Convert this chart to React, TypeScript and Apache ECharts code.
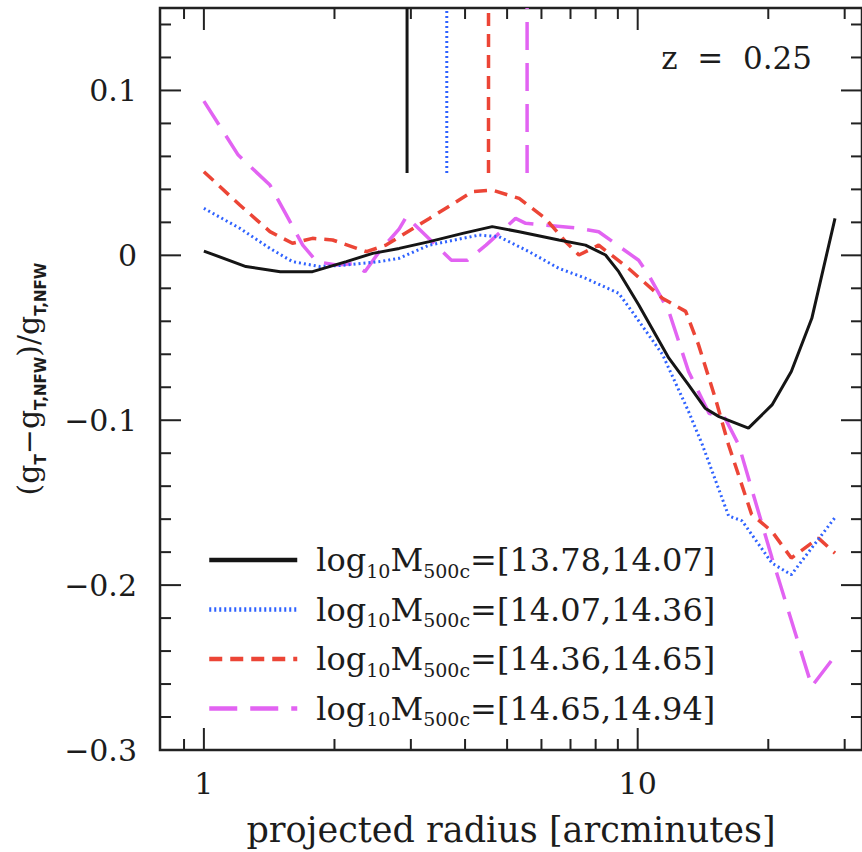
import { useEffect, useRef } from "react";
import * as echarts from "echarts";

// ---- data ----
const massRanges = ["13.78,14.07", "14.07,14.36", "14.36,14.65", "14.65,14.94"];

const bin1: [number, number][] = [
  [1.0, 0.0026], [1.25, -0.0068], [1.5, -0.0099], [1.78, -0.0099], [2.13, -0.0038],
  [2.45, 0.0012], [2.82, 0.0042], [3.31, 0.0083], [3.95, 0.0133], [4.62, 0.0174],
  [5.33, 0.0143], [6.58, 0.0093], [7.58, 0.0062], [8.43, 0.0002], [9.04, -0.0099],
  [10.05, -0.03], [11.8, -0.0624], [13.1, -0.0786], [14.3, -0.0927], [15.4, -0.0978],
  [18.0, -0.1048], [20.4, -0.0907], [22.6, -0.0705], [25.2, -0.0382], [28.5, 0.0224],
];
const bin2: [number, number][] = [
  [1.0, 0.0285], [1.21, 0.0164], [1.42, 0.0042], [1.6, -0.0038], [1.85, -0.0068],
  [2.13, -0.0059], [2.54, -0.0038], [2.82, -0.0018], [3.31, 0.0062], [4.31, 0.0123],
  [4.79, 0.0113], [5.62, 0.0022], [6.58, -0.0079], [7.58, -0.0139], [9.04, -0.023],
  [9.7, -0.034], [11.4, -0.06], [13.1, -0.0947], [14.1, -0.115], [16.2, -0.158],
  [17.4, -0.161], [20.4, -0.1867], [22.6, -0.1937], [28.5, -0.159],
];
const bin3: [number, number][] = [
  [1.0, 0.0507], [1.21, 0.0305], [1.42, 0.0144], [1.6, 0.0073], [1.78, 0.0103],
  [1.98, 0.0093], [2.37, 0.0022], [2.63, 0.0062], [3.31, 0.0224], [4.16, 0.0386],
  [4.62, 0.0396], [5.33, 0.0345], [6.13, 0.0224], [6.82, 0.0083], [7.32, 0.0002],
  [8.13, 0.0062], [9.53, -0.008], [11.4, -0.026], [12.9, -0.034], [13.8, -0.054],
  [15.1, -0.0867], [16.2, -0.115], [18.3, -0.157], [20.4, -0.1675], [22.6, -0.1836],
  [26.1, -0.1715], [28.5, -0.1806],
];
const bin4: [number, number][] = [
  [1.0, 0.0935], [1.2, 0.0608], [1.42, 0.0426], [1.55, 0.0244], [1.69, 0.0062],
  [1.82, -0.0038], [2.02, -0.0059], [2.2, -0.005], [2.35, -0.0099], [2.54, 0.0024],
  [2.82, 0.016], [2.93, 0.0234], [3.72, -0.003], [4.05, -0.003], [4.47, 0.0062],
  [5.23, 0.0224], [5.52, 0.0194], [7.32, 0.0164], [8.13, 0.0143], [10.05, -0.003],
  [10.6, -0.012], [11.8, -0.034], [13.1, -0.0705], [14.6, -0.0958], [15.9, -0.0988],
  [17.1, -0.115], [20.4, -0.1836], [25.2, -0.2614], [28.5, -0.243],
];
const binData = [bin1, bin2, bin3, bin4];

// vertical markers at the top (one per mass bin)
const markerRadii = [2.94, 3.63, 4.53, 5.56];
const markerSpan = [0.05, 0.15];

// axes
const X_MIN = 0.7922;
const X_MAX = 32.89;
const Y_MIN = -0.3;
const Y_MAX = 0.15;
const xTicks = [0.9, 1, 2, 3, 4, 5, 6, 7, 8, 9, 10, 20, 30];
const xMajorTicks = [1, 10];
const yTicks = [
  -0.28, -0.26, -0.24, -0.22, -0.2, -0.18, -0.16, -0.14, -0.12, -0.1, -0.08, -0.06,
  -0.04, -0.02, 0, 0.02, 0.04, 0.06, 0.08, 0.1, 0.12, 0.14,
];
const yMajorTicks = [-0.2, -0.1, 0, 0.1];
const redshiftLabel = "z  =  0.25";

// ---- styles ----
const colors = ["#151515", "#2f62ff", "#ec4536", "#e263f2"];
const widths = [3, 3, 3.5, 3.5];
const dashes: any[] = ["solid", [2, 3], [13, 8], [28, 13]];
const SERIF = "DejaVu Serif";
const TEXT = "#1c1c1c";

function seriesName(i: number) {
  return "log10M500c=[" + massRanges[i] + "]";
}

export default function App() {
  const ref = useRef<HTMLDivElement>(null);
  useEffect(() => {
    if (!ref.current) return;
    const chart = echarts.init(ref.current, null, { renderer: "svg" });

    const lineSeries = binData.map((d, i) => ({
      name: seriesName(i),
      type: "line",
      data: d,
      symbol: "none",
      showSymbol: false,
      lineStyle: { color: colors[i], width: widths[i], type: dashes[i] },
      itemStyle: { color: colors[i] },
      z: 5 - i,
    }));

    const markerSeries = markerRadii.map((r, i) => ({
      name: "marker " + massRanges[i],
      type: "line",
      data: [
        [r, markerSpan[0]],
        [r, markerSpan[1]],
      ],
      symbol: "none",
      lineStyle: { color: colors[i], width: widths[i], type: dashes[i] },
      itemStyle: { color: colors[i] },
    }));

    const tickStyle = { stroke: "#222", lineWidth: 2 };
    const xTickSeries = {
      type: "custom",
      silent: true,
      data: xTicks.map((v) => [v, Y_MIN, xMajorTicks.includes(v) ? 1 : 0]),
      encode: { x: 0, y: 1 },
      renderItem: (_p: any, api: any) => {
        const x = api.value(0);
        const len = api.value(2) ? 22 : 11;
        const b = api.coord([x, Y_MIN]);
        const t = api.coord([x, Y_MAX]);
        return {
          type: "group",
          children: [
            { type: "line", shape: { x1: b[0], y1: b[1], x2: b[0], y2: b[1] - len }, style: tickStyle },
            { type: "line", shape: { x1: t[0], y1: t[1], x2: t[0], y2: t[1] + len }, style: tickStyle },
          ],
        };
      },
    };
    const yTickSeries = {
      type: "custom",
      silent: true,
      data: yTicks.map((v) => [X_MIN, v, yMajorTicks.includes(v) ? 1 : 0]),
      encode: { x: 0, y: 1 },
      renderItem: (_p: any, api: any) => {
        const y = api.value(1);
        const len = api.value(2) ? 21 : 11;
        const l = api.coord([X_MIN, y]);
        const r = api.coord([X_MAX, y]);
        return {
          type: "group",
          children: [
            { type: "line", shape: { x1: l[0], y1: l[1], x2: l[0] + len, y2: l[1] }, style: tickStyle },
            { type: "line", shape: { x1: r[0], y1: r[1], x2: r[0] - len, y2: r[1] }, style: tickStyle },
          ],
        };
      },
    };

    const option: any = {
      animation: false,
      backgroundColor: "#ffffff",
      grid: {
        show: true,
        left: 160,
        top: 8,
        width: 704,
        height: 744,
        borderColor: "#222",
        borderWidth: 2.5,
        backgroundColor: "transparent",
      },
      xAxis: {
        type: "log",
        logBase: 10,
        min: X_MIN,
        max: X_MAX,
        axisLine: { show: false },
        axisTick: { show: false },
        splitLine: { show: false },
        minorTick: { show: false },
        axisLabel: {
          showMinLabel: false,
          showMaxLabel: false,
          margin: 18,
          fontFamily: SERIF,
          fontSize: 30,
          color: TEXT,
          formatter: (v: number) => String(Math.round(v)),
        },
        name: "projected radius [arcminutes]",
        nameLocation: "middle",
        nameGap: 62,
        nameTextStyle: { fontFamily: SERIF, fontSize: 35, color: TEXT },
      },
      yAxis: {
        type: "value",
        min: Y_MIN,
        max: Y_MAX,
        interval: 0.1,
        axisLine: { show: false },
        axisTick: { show: false },
        splitLine: { show: false },
        axisLabel: {
          showMaxLabel: false,
          margin: 23,
          fontFamily: SERIF,
          fontSize: 30,
          color: TEXT,
          formatter: (v: number) => {
            const r = Math.round(v * 10) / 10;
            if (r === 0) return "0";
            return r < 0 ? "\u2212" + Math.abs(r).toFixed(1) : r.toFixed(1);
          },
        },
        name: "(g{s|T}\u2212g{s|T,NFW})/g{s|T,NFW}",
        nameLocation: "middle",
        nameRotate: 90,
        nameGap: 112,
        nameTextStyle: {
          fontFamily: SERIF,
          fontSize: 30,
          color: TEXT,
          rich: {
            s: {
              fontFamily: "DejaVu Sans",
              fontWeight: "bold",
              fontSize: 15,
              color: TEXT,
              verticalAlign: "bottom",
              lineHeight: 40,
            },
          },
        },
      },
      legend: {
        data: binData.map((_d, i) => seriesName(i)),
        orient: "vertical",
        left: 202,
        top: 535,
        itemWidth: 88,
        itemHeight: 14,
        itemGap: 9.5,
        itemStyle: { opacity: 0, borderWidth: 0 },
        lineStyle: { opacity: 1, width: 4.5 },
        textStyle: {
          fontFamily: SERIF,
          fontSize: 32,
          color: TEXT,
          lineHeight: 40,
          rich: {
            gap: { width: 14, fontSize: 32, lineHeight: 40 },
            sub: {
              fontFamily: SERIF,
              fontSize: 19,
              color: TEXT,
              verticalAlign: "bottom",
              lineHeight: 40,
            },
            main: { fontFamily: SERIF, fontSize: 32, color: TEXT, lineHeight: 40 },
          },
        },
        formatter: (name: string) => {
          const m = name.match(/\[(.*)\]/);
          const range = m ? m[1] : name;
          return "{gap| }{main|log}{sub|10}{main|M}{sub|500c}{main|=[" + range + "]}";
        },
      },
      graphic: [
        {
          type: "text",
          right: 50,
          top: 42,
          style: {
            text: redshiftLabel,
            fontFamily: SERIF,
            fontSize: 31,
            fill: TEXT,
          },
        },
      ],
      series: [...lineSeries, ...markerSeries, xTickSeries, yTickSeries],
    };

    chart.setOption(option);
    return () => chart.dispose();
  }, []);

  return (
    <div
      ref={ref}
      style={{ position: "fixed", left: 0, top: 0, width: 862, height: 852, background: "#fff" }}
    />
  );
}
